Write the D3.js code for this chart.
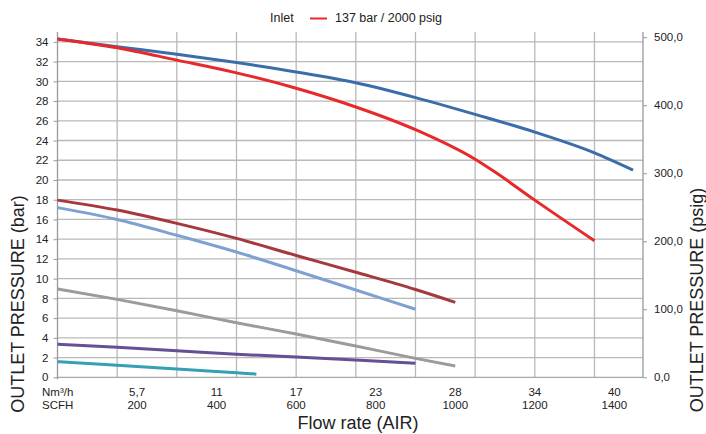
<!DOCTYPE html>
<html>
<head>
<meta charset="utf-8">
<script src="https://cdn.jsdelivr.net/npm/d3@7"></script>
<style>
  html, body { margin: 0; padding: 0; background: #fff; }
  svg { display: block; font-family: "Liberation Sans", Arial, sans-serif; }
</style>
</head>
<body>
<svg id="chart" width="706" height="434"></svg>
<script>
// Flow in SCFH, outlet pressure in bar for each curve
const blueFlow = [0, 150, 300, 450, 600, 750, 900, 1050, 1200, 1350, 1447];
const blueBar  = [34.3, 33.5, 32.75, 31.9, 30.95, 29.85, 28.35, 26.65, 24.85, 22.75, 21.0];

const redFlow = [0, 150, 300, 450, 600, 750, 900, 1050, 1100, 1200, 1350];
const redBar  = [34.3, 33.4, 32.15, 30.86, 29.3, 27.4, 25.1, 22.1, 20.8, 17.96, 13.84];

const brownFlow = [0, 150, 300, 450, 600, 750, 900, 1000];
const brownBar  = [17.96, 16.95, 15.6, 14.08, 12.35, 10.65, 8.9, 7.6];

const lightBlueFlow = [0, 150, 300, 450, 600, 750, 900];
const lightBlueBar  = [17.2, 16.0, 14.4, 12.7, 10.8, 8.85, 6.9];

const grayFlow = [0, 150, 300, 450, 600, 750, 900, 1000];
const grayBar  = [8.95, 7.9, 6.75, 5.53, 4.39, 3.17, 1.92, 1.14];

const purpleFlow = [0, 150, 300, 450, 600, 750, 900];
const purpleBar  = [3.34, 3.04, 2.7, 2.33, 2.06, 1.75, 1.42];

const tealFlow = [0, 150, 300, 450, 500];
const tealBar  = [1.58, 1.21, 0.84, 0.45, 0.32];

// Axis labels
const barTicks = d3.range(0, 35, 2);
const psigTicks = [0, 100, 200, 300, 400, 500];
const scfhTicks = [200, 400, 600, 800, 1000, 1200, 1400];
const nm3Labels = ["5,7", "11", "17", "23", "28", "34", "40"];
const gridFlow = d3.range(0, 1351, 150);

const series = [
  { flow: blueFlow, bar: blueBar, color: "#3a6daa" },
  { flow: brownFlow, bar: brownBar, color: "#a5393d" },
  { flow: lightBlueFlow, bar: lightBlueBar, color: "#7ea1d2" },
  { flow: grayFlow, bar: grayBar, color: "#9b9b9b" },
  { flow: purpleFlow, bar: purpleBar, color: "#654f97" },
  { flow: tealFlow, bar: tealBar, color: "#35a0b1" },
  { flow: redFlow, bar: redBar, color: "#e8282b" }
];

const BAR_TO_PSIG = 14.5038;
const plotL = 57.5, plotR = 643, plotT = 32, plotB = 377.3;
const maxBar = 35;

const svg = d3.select("#chart");
const x = d3.scaleLinear().domain([0, 1472]).range([plotL, plotR]);
const y = d3.scaleLinear().domain([0, maxBar]).range([plotB, plotT]);
const yPsig = d3.scaleLinear().domain([0, maxBar * BAR_TO_PSIG]).range([plotB, plotT]);

const gridColor = "#b9b9b9";
const textColor = "#222";
const tickFont = "11.5px";

// Horizontal grid
svg.append("g").selectAll("line").data(barTicks.filter(d => d > 0)).join("line")
  .attr("x1", plotL).attr("x2", plotR)
  .attr("y1", d => y(d)).attr("y2", d => y(d))
  .attr("stroke", gridColor).attr("stroke-width", 1.3);

// Vertical grid
svg.append("g").selectAll("line").data(gridFlow.filter(d => d > 0)).join("line")
  .attr("x1", d => x(d)).attr("x2", d => x(d))
  .attr("y1", plotT).attr("y2", plotB)
  .attr("stroke", gridColor).attr("stroke-width", 1.3);

// Frame lines
svg.append("line").attr("x1", plotL).attr("x2", plotR).attr("y1", plotB).attr("y2", plotB)
  .attr("stroke", "#a8a8a8").attr("stroke-width", 1.3);
svg.append("line").attr("x1", plotL).attr("x2", plotL).attr("y1", plotT).attr("y2", plotB + 2)
  .attr("stroke", "#999").attr("stroke-width", 1.3);
svg.append("line").attr("x1", plotR).attr("x2", plotR).attr("y1", plotT).attr("y2", plotB)
  .attr("stroke", "#999").attr("stroke-width", 1.3);

// Left axis (bar)
const leftAxis = d3.axisLeft(y).tickValues(barTicks).tickSize(4).tickPadding(5).tickFormat(d3.format("d"));
const gl = svg.append("g").attr("transform", `translate(${plotL},0)`).call(leftAxis);
gl.select(".domain").remove();
gl.selectAll(".tick line").attr("stroke", "#999");
gl.selectAll(".tick text").attr("fill", textColor).style("font-size", tickFont)
  .style("font-family", "'Liberation Sans', Arial, sans-serif");

// Right axis (psig)
const rightAxis = d3.axisRight(yPsig).tickValues(psigTicks).tickSize(4).tickPadding(7)
  .tickFormat(d => d3.format(".1f")(d).replace(".", ","));
const gr = svg.append("g").attr("transform", `translate(${plotR},0)`).call(rightAxis);
gr.select(".domain").remove();
gr.selectAll(".tick line").attr("stroke", "#999");
gr.selectAll(".tick text").attr("fill", textColor).style("font-size", tickFont)
  .style("font-family", "'Liberation Sans', Arial, sans-serif");

// Bottom labels: two rows (Nm³/h and SCFH)
const bl = svg.append("g").attr("fill", textColor).style("font-size", tickFont);
bl.selectAll("text.nm3").data(scfhTicks).join("text").attr("class", "nm3")
  .attr("x", d => x(d)).attr("y", 396).attr("text-anchor", "middle")
  .text((d, i) => nm3Labels[i]);
bl.selectAll("text.scfh").data(scfhTicks).join("text").attr("class", "scfh")
  .attr("x", d => x(d)).attr("y", 409).attr("text-anchor", "middle")
  .text(d => d);
bl.append("text").attr("x", 42).attr("y", 396).text("Nm³/h");
bl.append("text").attr("x", 42).attr("y", 409).text("SCFH");

// Curves
const line = d3.line().x(d => x(d[0])).y(d => y(d[1])).curve(d3.curveMonotoneX);
svg.append("g").selectAll("path").data(series).join("path")
  .attr("d", s => line(s.flow.map((f, i) => [f, s.bar[i]])))
  .attr("fill", "none").attr("stroke", s => s.color)
  .attr("stroke-width", 3).attr("stroke-linecap", "butt").attr("stroke-linejoin", "round");

// Legend
const lg = svg.append("g").style("font-size", "12.5px").attr("fill", textColor);
lg.append("text").attr("x", 270).attr("y", 22).text("Inlet");
lg.append("line").attr("x1", 310).attr("x2", 327).attr("y1", 18.5).attr("y2", 18.5)
  .attr("stroke", "#e8282b").attr("stroke-width", 2);
lg.append("text").attr("x", 335).attr("y", 22).text("137 bar / 2000 psig");

// Axis titles
svg.append("text").attr("transform", "translate(24,304) rotate(-90)")
  .attr("text-anchor", "middle").attr("fill", textColor).style("font-size", "18px")
  .text("OUTLET PRESSURE (bar)");
svg.append("text").attr("transform", "translate(703,300) rotate(-90)")
  .attr("text-anchor", "middle").attr("fill", textColor).style("font-size", "18px")
  .text("OUTLET PRESSURE (psig)");
svg.append("text").attr("x", 358).attr("y", 429)
  .attr("text-anchor", "middle").attr("fill", textColor).style("font-size", "18px")
  .text("Flow rate (AIR)");
</script>
</body>
</html>
